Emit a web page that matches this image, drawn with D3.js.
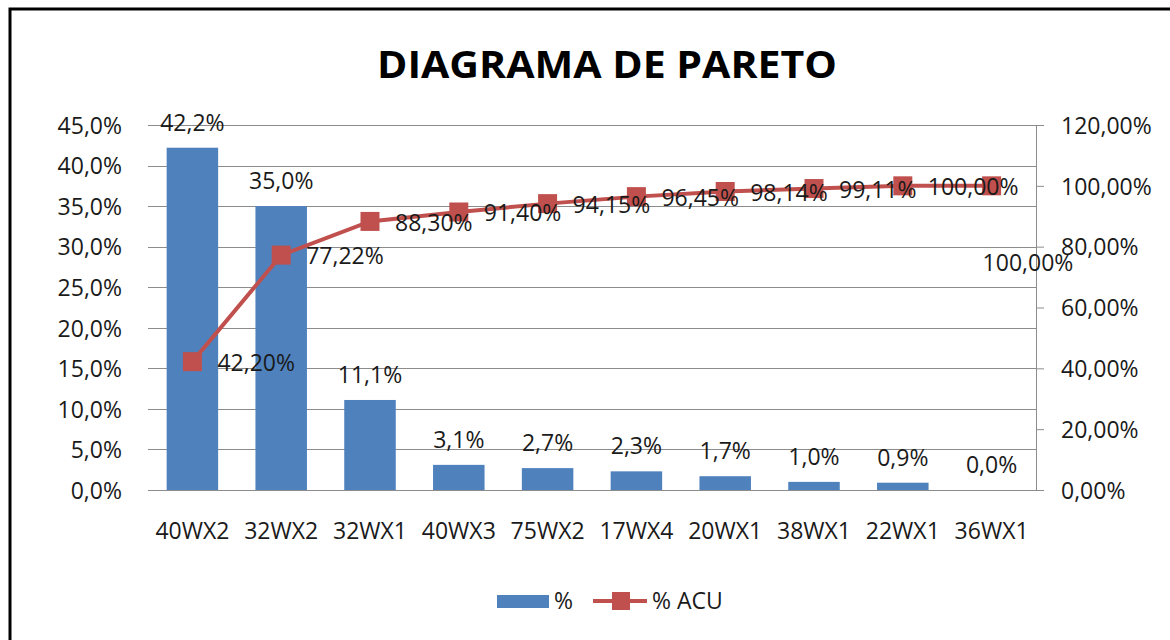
<!DOCTYPE html>
<html>
<head>
<meta charset="utf-8">
<script src="https://cdn.jsdelivr.net/npm/d3@7"></script>
<style>
  body { margin: 0; background: #fff; }
  text { font-family: "Open Sans", sans-serif; fill: #1a1a1a; }
</style>
</head>
<body>
<div id="chart"></div>
<script>
var categories = ["40WX2", "32WX2", "32WX1", "40WX3", "75WX2", "17WX4", "20WX1", "38WX1", "22WX1", "36WX1"];
var percentValues = [42.2, 35.0, 11.1, 3.1, 2.7, 2.3, 1.7, 1.0, 0.9, 0.0];
var cumulativeValues = [42.20, 77.22, 88.30, 91.40, 94.15, 96.45, 98.14, 99.11, 100.00, 100.00];
var leftTicks = [0, 5, 10, 15, 20, 25, 30, 35, 40, 45];
var rightTicks = [0, 20, 40, 60, 80, 100, 120];

var width = 1170,
  height = 640;
var plot = { left: 148, right: 1036, top: 125, bottom: 490 };
var barColor = "#4F81BD",
  lineColor = "#C0504D",
  gridColor = "#8c8c8c";

var locale = d3.formatLocale({ decimal: ",", thousands: ".", grouping: [3], currency: ["", ""] });
var fmt1 = locale.format(".1f"),
  fmt2 = locale.format(".2f");

var svg = d3
  .select("#chart")
  .append("svg")
  .attr("width", width)
  .attr("height", height);

// outer frame
svg
  .append("rect")
  .attr("x", 10)
  .attr("y", 9)
  .attr("width", 1200)
  .attr("height", 700)
  .attr("fill", "none")
  .attr("stroke", "#000")
  .attr("stroke-width", 3);

svg
  .append("text")
  .attr("x", 607)
  .attr("y", 78)
  .attr("text-anchor", "middle")
  .attr("font-size", 38)
  .attr("font-weight", "bold")
  .attr("textLength", 460)
  .attr("lengthAdjust", "spacingAndGlyphs")
  .style("fill", "#000")
  .text("DIAGRAMA DE PARETO");

var x = d3
  .scaleBand()
  .domain(categories)
  .range([plot.left, plot.right])
  .paddingInner(0.42)
  .paddingOuter(0.21);
var yLeft = d3.scaleLinear().domain([0, 45]).range([plot.bottom, plot.top]);
var yRight = d3.scaleLinear().domain([0, 120]).range([plot.bottom, plot.top]);

function center(c) {
  return x(c) + x.bandwidth() / 2;
}

// gridlines
svg
  .append("g")
  .selectAll("line")
  .data(leftTicks)
  .enter()
  .append("line")
  .attr("x1", plot.left)
  .attr("x2", plot.right)
  .attr("y1", function (d) { return Math.round(yLeft(d)) + 0.5; })
  .attr("y2", function (d) { return Math.round(yLeft(d)) + 0.5; })
  .attr("stroke", gridColor)
  .attr("stroke-width", 1);

// left axis
var leftAxis = svg
  .append("g")
  .attr("transform", "translate(" + plot.left + ",0)")
  .call(
    d3.axisLeft(yLeft)
      .tickValues(leftTicks)
      .tickSize(0)
      .tickPadding(26)
      .tickFormat(function (d) { return fmt1(d) + "%"; })
  );
leftAxis.select(".domain").remove();
leftAxis.selectAll("text").attr("font-size", 23).attr("font-family", null).attr("dy", "0.36em");

// right axis
var rightAxis = svg
  .append("g")
  .attr("transform", "translate(" + plot.right + ",0)")
  .call(
    d3.axisRight(yRight)
      .tickValues(rightTicks)
      .tickSizeInner(8)
      .tickSizeOuter(0)
      .tickPadding(17)
      .tickFormat(function (d) { return fmt2(d) + "%"; })
  );
rightAxis.select(".domain").attr("stroke", gridColor);
rightAxis.selectAll(".tick line").attr("stroke", gridColor);
rightAxis.selectAll("text").attr("font-size", 23).attr("font-family", null).attr("dy", "0.36em");

// category axis
var bottomAxis = svg
  .append("g")
  .attr("transform", "translate(0," + plot.bottom + ")")
  .call(d3.axisBottom(x).tickSize(0).tickPadding(33));
bottomAxis.select(".domain").attr("stroke", gridColor);
bottomAxis.selectAll("text").attr("font-size", 23).attr("font-family", null);

// bars
svg
  .append("g")
  .selectAll("rect")
  .data(categories)
  .enter()
  .append("rect")
  .attr("x", function (d) { return x(d); })
  .attr("width", x.bandwidth())
  .attr("y", function (d, i) { return yLeft(percentValues[i]); })
  .attr("height", function (d, i) { return plot.bottom - yLeft(percentValues[i]); })
  .attr("fill", barColor);

svg
  .append("g")
  .selectAll("text")
  .data(categories)
  .enter()
  .append("text")
  .attr("x", center)
  .attr("y", function (d, i) { return yLeft(percentValues[i]) - 17; })
  .attr("text-anchor", "middle")
  .attr("font-size", 23)
  .text(function (d, i) { return fmt1(percentValues[i]) + "%"; });

// cumulative line
var line = d3
  .line()
  .x(function (d, i) { return center(categories[i]); })
  .y(function (d) { return yRight(d); });

svg
  .append("path")
  .datum(cumulativeValues)
  .attr("d", line)
  .attr("fill", "none")
  .attr("stroke", lineColor)
  .attr("stroke-width", 4);

var markerSize = 19;
svg
  .append("g")
  .selectAll("rect")
  .data(cumulativeValues)
  .enter()
  .append("rect")
  .attr("x", function (d, i) { return center(categories[i]) - markerSize / 2; })
  .attr("y", function (d) { return yRight(d) - markerSize / 2; })
  .attr("width", markerSize)
  .attr("height", markerSize)
  .attr("fill", lineColor);

var last = cumulativeValues.length - 1;
svg
  .append("g")
  .selectAll("text")
  .data(cumulativeValues)
  .enter()
  .append("text")
  .attr("x", function (d, i) { return center(categories[i]) + (i === last ? -9 : 25); })
  .attr("y", function (d, i) { return yRight(d) + (i === last ? 77 : 1); })
  .attr("dy", "0.36em")
  .attr("font-size", 23)
  .text(function (d) { return fmt2(d) + "%"; });

// legend
var legend = svg.append("g");
legend
  .append("rect")
  .attr("x", 497)
  .attr("y", 595)
  .attr("width", 52)
  .attr("height", 13)
  .attr("fill", barColor);
legend
  .append("text")
  .attr("x", 554)
  .attr("y", 601)
  .attr("dy", "0.36em")
  .attr("font-size", 23)
  .text("%");
legend
  .append("line")
  .attr("x1", 593)
  .attr("x2", 647)
  .attr("y1", 601)
  .attr("y2", 601)
  .attr("stroke", lineColor)
  .attr("stroke-width", 4);
legend
  .append("rect")
  .attr("x", 612)
  .attr("y", 592)
  .attr("width", 18)
  .attr("height", 18)
  .attr("fill", lineColor);
legend
  .append("text")
  .attr("x", 652)
  .attr("y", 601)
  .attr("dy", "0.36em")
  .attr("font-size", 23)
  .text("% ACU");
</script>
</body>
</html>
